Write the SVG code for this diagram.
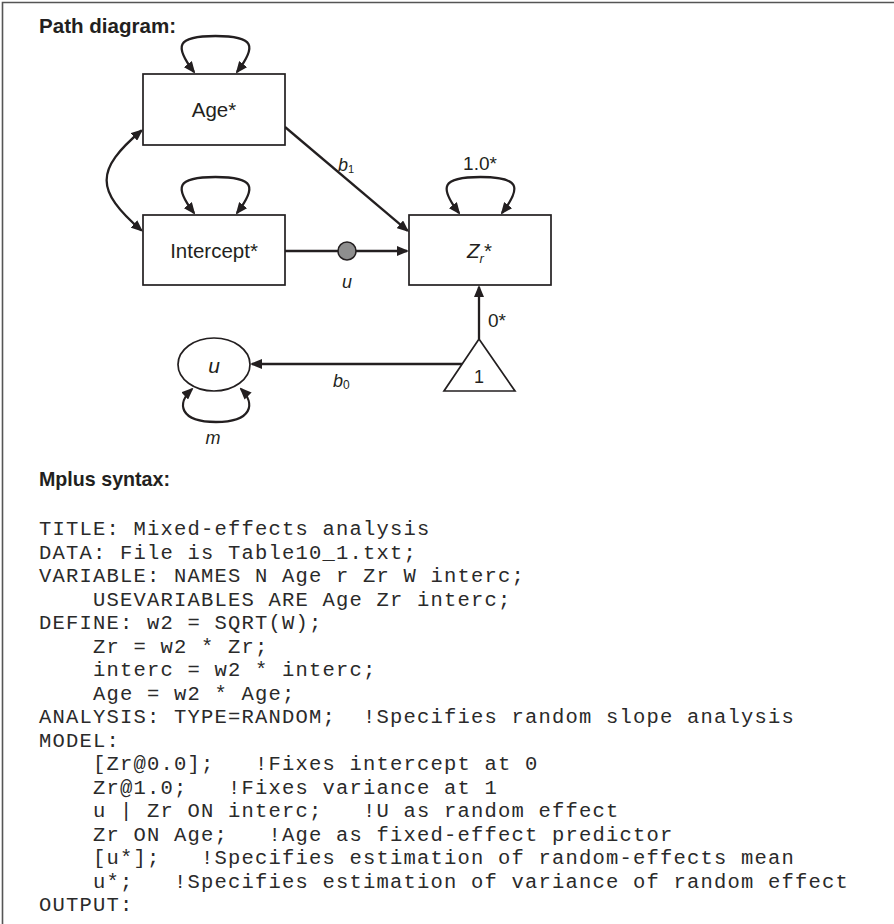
<svg xmlns="http://www.w3.org/2000/svg" width="894" height="924" viewBox="0 0 894 924">
<style>
.box{fill:#fff;stroke:#231f20;stroke-width:1.7}
.con{fill:none;stroke:#231f20;stroke-width:2.3}
.lbl{font-family:"Liberation Sans",Arial,sans-serif;fill:#231f20}
.head{font-family:"Liberation Sans",Arial,sans-serif;font-weight:bold;font-size:21px;fill:#231f20}
.code{font-family:"Liberation Mono","Courier New",monospace;font-size:20.5px;letter-spacing:1.2px;fill:#2a2a2a;white-space:pre}
</style>
<defs>
<marker id="ah" viewBox="0 0 12 10" refX="10" refY="5" markerWidth="12" markerHeight="10" markerUnits="userSpaceOnUse" orient="auto-start-reverse">
<path d="M0,0 L12,5 L0,10 z" fill="#231f20"/>
</marker>
</defs>
<rect width="894" height="924" fill="#fff"/>
<g id="frame" fill="none" stroke="#555" stroke-width="1.6">
<path d="M2.5,924 L2.5,2.5 L894,2.5"/>
</g>
<text class="head" x="39" y="33" textLength="137" lengthAdjust="spacingAndGlyphs">Path diagram:</text>

<g id="connectors">
<path class="con" d="M194,72 C174,46 176,36 215.5,36 C255,36 257,46 237,72" marker-start="url(#ah)" marker-end="url(#ah)"/>
<path class="con" d="M194,213 C174,187 176,177 215.5,177 C255,177 257,187 237,213" marker-start="url(#ah)" marker-end="url(#ah)"/>
<path class="con" d="M459,213 C439,187 441,177 480.5,177 C520,177 522,187 502,213" marker-start="url(#ah)" marker-end="url(#ah)"/>
<path class="con" d="M141.5,130.5 C95,170 95,190 141.5,230.5" marker-start="url(#ah)" marker-end="url(#ah)"/>
<path class="con" d="M285,127 L407.5,230.7" marker-end="url(#ah)"/>
<path class="con" d="M285,251 L407,251" marker-end="url(#ah)"/>
<path class="con" d="M479,339 L479,287" marker-end="url(#ah)"/>
<path class="con" d="M462,364 L252,364" marker-end="url(#ah)"/>
<path class="con" d="M192,389 C176,404 180,422 216,422 C252,422 256,404 241,389" marker-start="url(#ah)" marker-end="url(#ah)"/>
<circle cx="347" cy="251" r="9" fill="#8e8e8e" stroke="#231f20" stroke-width="1.5"/>
<text class="lbl" x="338" y="171" font-size="18" font-style="italic">b<tspan font-size="11" dy="2" font-style="normal">1</tspan></text>
<text class="lbl" x="480" y="170" font-size="19" text-anchor="middle">1.0*</text>
<text class="lbl" x="347" y="288" font-size="18" font-style="italic" text-anchor="middle">u</text>
<text class="lbl" x="488" y="327" font-size="19">0*</text>
<text class="lbl" x="333" y="387" font-size="18" font-style="italic">b<tspan font-size="12" dy="2" font-style="normal">0</tspan></text>
<text class="lbl" x="213" y="444" font-size="18" font-style="italic" text-anchor="middle">m</text>
</g>

<g id="node-age">
<rect class="box" x="143" y="74" width="142" height="71"/>
<text class="lbl" x="214" y="117" font-size="20.5" text-anchor="middle">Age*</text>
</g>
<g id="node-intercept">
<rect class="box" x="143" y="215" width="142" height="70"/>
<text class="lbl" x="214" y="258" font-size="20.5" text-anchor="middle">Intercept*</text>
</g>
<g id="node-zr">
<rect class="box" x="409" y="215" width="142" height="70"/>
<text class="lbl" x="467" y="258" font-size="20.5"><tspan font-style="italic">Z</tspan><tspan font-size="13" dy="5" font-style="italic">r</tspan><tspan dy="-5">*</tspan></text>
</g>
<g id="node-one">
<polygon class="box" points="479,339 515,391 444,391"/>
<text class="lbl" x="479" y="383" font-size="18" text-anchor="middle">1</text>
</g>
<g id="node-u">
<ellipse class="box" cx="214" cy="364.5" rx="36" ry="26.5"/>
<text class="lbl" x="214" y="373" font-size="21" font-style="italic" text-anchor="middle">u</text>
</g>

<text class="head" x="39" y="486" textLength="131" lengthAdjust="spacingAndGlyphs">Mplus syntax:</text>
<g id="syntax" class="code">
<text x="39" y="535" xml:space="preserve">TITLE: Mixed-effects analysis</text>
<text x="39" y="558.5" xml:space="preserve">DATA: File is Table10_1.txt;</text>
<text x="39" y="582" xml:space="preserve">VARIABLE: NAMES N Age r Zr W interc;</text>
<text x="39" y="605.5" xml:space="preserve">    USEVARIABLES ARE Age Zr interc;</text>
<text x="39" y="629" xml:space="preserve">DEFINE: w2 = SQRT(W);</text>
<text x="39" y="652.5" xml:space="preserve">    Zr = w2 * Zr;</text>
<text x="39" y="676" xml:space="preserve">    interc = w2 * interc;</text>
<text x="39" y="699.5" xml:space="preserve">    Age = w2 * Age;</text>
<text x="39" y="723" xml:space="preserve">ANALYSIS: TYPE=RANDOM;  !Specifies random slope analysis</text>
<text x="39" y="746.5" xml:space="preserve">MODEL:</text>
<text x="39" y="770" xml:space="preserve">    [Zr@0.0];   !Fixes intercept at 0</text>
<text x="39" y="793.5" xml:space="preserve">    Zr@1.0;   !Fixes variance at 1</text>
<text x="39" y="817" xml:space="preserve">    u | Zr ON interc;   !U as random effect</text>
<text x="39" y="840.5" xml:space="preserve">    Zr ON Age;   !Age as fixed-effect predictor</text>
<text x="39" y="864" xml:space="preserve">    [u*];   !Specifies estimation of random-effects mean</text>
<text x="39" y="887.5" xml:space="preserve">    u*;   !Specifies estimation of variance of random effect</text>
<text x="39" y="911" xml:space="preserve">OUTPUT:</text>
</g>
</svg>
